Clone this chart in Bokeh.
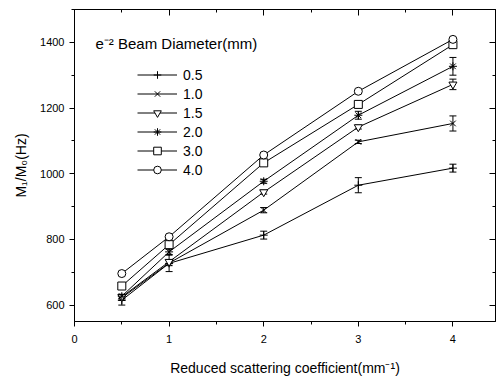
from bokeh.plotting import figure
from bokeh.models import (Range1d, LinearAxis, Legend, LegendItem, Whisker,
                          ColumnDataSource, Label, TeeHead, FixedTicker)
from bokeh.embed import file_html
from bokeh.resources import INLINE

# ---- data ----
x_vals = [0.5, 1, 2, 3, 4]
labels = ["0.5", "1.0", "1.5", "2.0", "3.0", "4.0"]
d05 = [615, 727, 813, 965, 1017]
d10 = [622, 728, 889, 1097, 1153]
d15 = [625, 732, 944, 1142, 1272]
d20 = [627, 762, 977, 1178, 1327]
d30 = [658, 784, 1033, 1211, 1393]
d40 = [696, 808, 1057, 1251, 1409]
e05 = [15, 25, 12, 23, 12]
e10 = [8, 8, 8, 5, 23]
e15 = [6, 6, 6, 6, 16]
e20 = [6, 8, 6, 12, 27]
e30 = [6, 6, 6, 5, 8]
e40 = [4, 4, 4, 4, 4]
markers = ["cross", "x", "inverted_triangle", "asterisk", "square", "circle"]
x_ticks = [0, 1, 2, 3, 4]
x_minor = [0.5, 1.5, 2.5, 3.5]
y_ticks = [600, 800, 1000, 1200, 1400]
y_minor = [700, 900, 1100, 1300, 1500]

series = [d05, d10, d15, d20, d30, d40]
errors = [e05, e10, e15, e20, e30, e40]

FONT = "Liberation Sans"

p = figure(width=497, height=378, output_backend="svg", toolbar_location=None,
           x_range=Range1d(0, 4.45), y_range=Range1d(550, 1500),
           min_border_left=74, min_border_right=2, min_border_top=9, min_border_bottom=56)
p.grid.visible = False
p.outline_line_color = "black"
p.outline_line_width = 1
p.background_fill_color = "white"
p.border_fill_color = "white"

# axes
xa = p.xaxis[0]
xa.ticker = FixedTicker(ticks=x_ticks, minor_ticks=x_minor)
xa.axis_label = "Reduced scattering coefficient(mm\u207b\u00b9)"
ya = p.yaxis[0]
ya.ticker = FixedTicker(ticks=y_ticks, minor_ticks=y_minor)
ya.axis_label = "M\u2081/M\u2080(Hz)"
for ax in (xa, ya):
    ax.axis_line_color = "black"
    ax.major_tick_line_color = "black"
    ax.minor_tick_line_color = "black"
    ax.major_tick_in = 0
    ax.major_tick_out = 5
    ax.minor_tick_in = 0
    ax.minor_tick_out = 3
    ax.major_label_text_font = FONT
    ax.major_label_text_font_size = "11px"
    ax.major_label_text_color = "black"
    ax.axis_label_text_font = FONT
    ax.axis_label_text_font_size = "14px"
    ax.axis_label_text_font_style = "normal"
    ax.axis_label_text_color = "black"
xa.major_label_standoff = 8
xa.axis_label_standoff = 14
ya.major_label_standoff = 5
ya.axis_label_standoff = 8

top = LinearAxis(ticker=FixedTicker(ticks=x_ticks, minor_ticks=x_minor))
top.major_label_overrides = {t: "" for t in x_ticks}
right = LinearAxis(ticker=FixedTicker(ticks=y_ticks, minor_ticks=y_minor))
right.major_label_overrides = {t: "" for t in y_ticks}
for ax in (top, right):
    ax.major_tick_in = 6
    ax.major_tick_out = 0
    ax.minor_tick_in = 3
    ax.minor_tick_out = 0
    ax.major_label_standoff = 0
    ax.axis_line_color = "black"
    ax.major_tick_line_color = "black"
    ax.minor_tick_line_color = "black"
p.add_layout(top, "above")
p.add_layout(right, "right")

items = []
for lab, ys, es, mk in zip(labels, series, errors, markers):
    src = ColumnDataSource(dict(x=x_vals, y=ys,
                                lo=[a - b for a, b in zip(ys, es)],
                                hi=[a + b for a, b in zip(ys, es)]))
    ln = p.line("x", "y", source=src, line_color="black", line_width=1)
    w = Whisker(source=src, base="x", upper="hi", lower="lo",
                line_color="black", line_width=1,
                upper_head=TeeHead(size=7, line_color="black", line_width=1),
                lower_head=TeeHead(size=7, line_color="black", line_width=1))
    p.add_layout(w)
    sc = p.scatter("x", "y", source=src, marker=mk, size=8,
                   line_color="black", fill_color="white", line_width=1)
    items.append(LegendItem(label=lab, renderers=[ln, sc]))

legend = Legend(items=items, location=(63, 142), padding=0, margin=0,
                spacing=0, glyph_width=40, glyph_height=19, label_height=19,
                label_standoff=6, label_text_font=FONT, label_text_font_size="14px",
                label_text_color="black", border_line_color=None,
                background_fill_alpha=0)
p.add_layout(legend, "center")

p.add_layout(Label(x=21, y=278, x_units="screen", y_units="screen",
                   text="e\u207b\u00b2 Beam Diameter(mm)", text_font=FONT,
                   text_font_size="15px", text_color="black",
                   text_baseline="middle"))

open("out.html", "w").write(file_html(p, INLINE))
